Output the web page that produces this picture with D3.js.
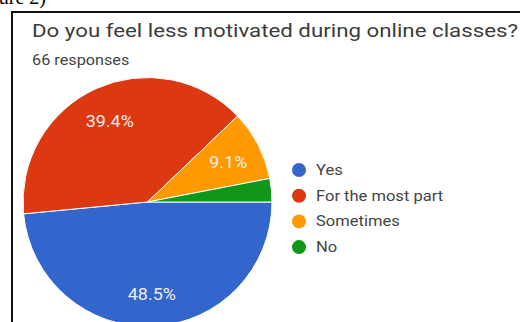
<!DOCTYPE html>
<html>
<head>
<meta charset="utf-8">
<script src="https://cdn.jsdelivr.net/npm/d3@7"></script>
<style>
  body { margin: 0; background: #fff; }
  svg { display: block; }
</style>
</head>
<body>
<div id="chart"></div>
<script>
const categories = ['Yes', 'For the most part', 'Sometimes', 'No'];
const counts = [32, 26, 6, 2];
const colors = ['#3366cc', '#dc3912', '#ff9900', '#109618'];
const titleText = 'Do you feel less motivated during online classes?';
const subtitleText = '66 responses';

const W = 520, H = 322;
const svg = d3.select('#chart').append('svg')
    .attr('width', W)
    .attr('height', H);

// the scanned chart is a bit wider than tall, so stretch text horizontally
function stretch(sel, k) {
    sel.each(function() {
        const w = this.getComputedTextLength();
        d3.select(this)
            .attr('textLength', w * k)
            .attr('lengthAdjust', 'spacingAndGlyphs');
    });
}

// caption fragment cut off at the top of the scan
svg.append('text')
    .attr('x', 46).attr('y', 4)
    .attr('text-anchor', 'end')
    .style('font-family', '"Liberation Serif", serif')
    .style('font-size', '20px')
    .style('fill', '#000')
    .text('Figure 2)');

// card border (only top and left edges are in frame)
svg.append('path')
    .attr('d', `M12,${H + 5} L12,12 L${W + 5},12`)
    .style('fill', 'none')
    .style('stroke', '#111')
    .style('stroke-width', 2);

const title = svg.append('text')
    .attr('x', 32).attr('y', 37)
    .style('font-family', 'Roboto, sans-serif')
    .style('font-size', '17.5px')
    .style('fill', '#3c3c3c')
    .text(titleText);
title.attr('textLength', 486).attr('lengthAdjust', 'spacingAndGlyphs');

svg.append('text')
    .attr('x', 32).attr('y', 65)
    .style('font-family', 'Roboto, sans-serif')
    .style('font-size', '14px')
    .style('fill', '#444')
    .text(subtitleText)
    .call(stretch, 1.16);

// pie
const cx = 147.5, cy = 202, r = 124.5;
const total = d3.sum(counts);
const pie = d3.pie().sort(null).value(d => d)
    .startAngle(Math.PI / 2).endAngle(Math.PI / 2 + 2 * Math.PI);
const arcs = pie(counts);
const arc = d3.arc().innerRadius(0).outerRadius(r);
const labelArc = d3.arc().innerRadius(r * 0.73).outerRadius(r * 0.73);

const g = svg.append('g').attr('transform', `translate(${cx},${cy})`);
g.selectAll('path.slice')
    .data(arcs)
    .enter().append('path')
    .attr('class', 'slice')
    .attr('d', arc)
    .style('fill', (d, i) => colors[i])
    .style('stroke', '#fff')
    .style('stroke-width', 1);

g.selectAll('text.pct')
    .data(arcs.filter(d => d.value / total > 0.05))
    .enter().append('text')
    .attr('class', 'pct')
    .attr('transform', d => `translate(${labelArc.centroid(d)})`)
    .attr('text-anchor', 'middle')
    .attr('dy', '0.45em')
    .style('font-family', 'Roboto, sans-serif')
    .style('font-size', '16px')
    .style('fill', '#eeeeee')
    .text(d => (d.value / total * 100).toFixed(1) + '%')
    .call(stretch, 1.12);

// legend
const legend = svg.append('g').attr('transform', 'translate(299,170)');
const rows = legend.selectAll('g')
    .data(categories)
    .enter().append('g')
    .attr('transform', (d, i) => `translate(0,${i * 25.7})`);
rows.append('circle')
    .attr('r', 7)
    .style('fill', (d, i) => colors[i]);
rows.append('text')
    .attr('x', 17)
    .attr('dy', '0.36em')
    .style('font-family', 'Roboto, sans-serif')
    .style('font-size', '14px')
    .style('fill', '#444')
    .text(d => d)
    .call(stretch, 1.18);
</script>
</body>
</html>
